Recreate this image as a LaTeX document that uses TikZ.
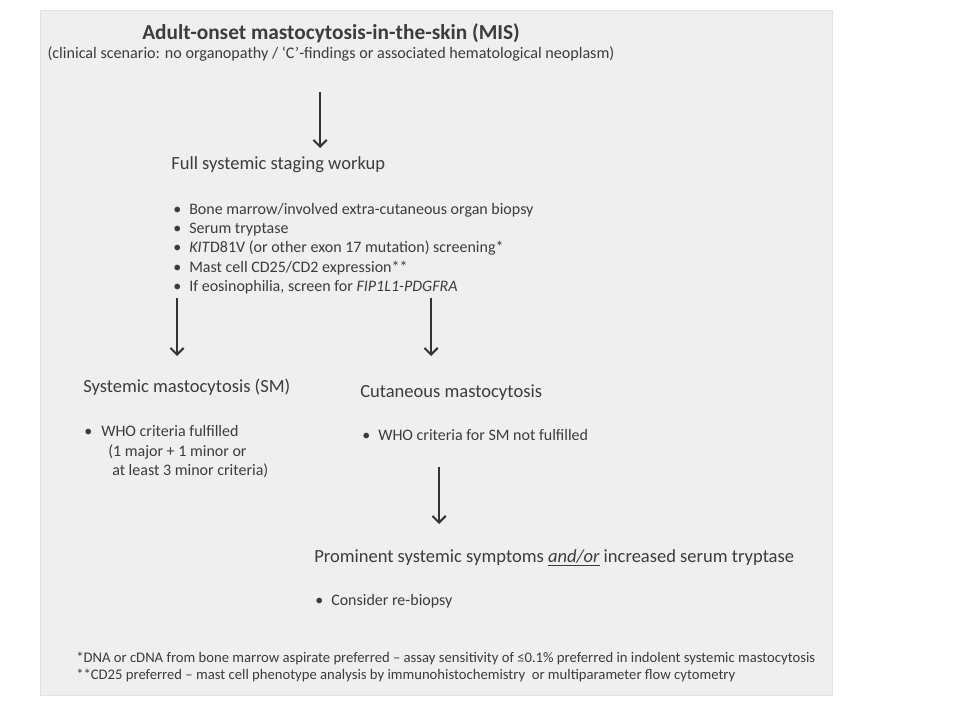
\documentclass[tikz,border=0pt]{standalone}
\usepackage{fontspec}
\setmainfont{Carlito}
\usetikzlibrary{arrows.meta}
\definecolor{bg}{HTML}{EFEFEF}
\definecolor{bgedge}{HTML}{E2E2E2}
\definecolor{ink}{HTML}{3C3C3C}
\definecolor{arr}{HTML}{333333}
\tikzset{
  fsz/.style={font=\fontsize{#1}{#1}\selectfont},
  txt/.style={anchor=mid west, inner sep=0pt, text=ink},
  ctxt/.style={anchor=mid, inner sep=0pt, text=ink},
  head/.style={txt, fsz=13.9},
  item/.style={txt, fsz=12},
  foot/.style={txt, fsz=11},
  flow/.style={draw=arr, line width=1.5pt, -{Straight Barb[length=5pt,width=10pt,line width=1.5pt]}},
}
\begin{document}
\begin{tikzpicture}[x=0.75pt,y=-0.75pt]
\useasboundingbox (0,0) rectangle (960,720);
\fill[white] (0,0) rectangle (960,720);
\draw[bgedge, fill=bg, line width=0.5pt] (40,10) rectangle (832,695);

% title
\node[ctxt, font=\fontsize{16}{16}\selectfont\bfseries] (title) at (331,36) {Adult-onset mastocytosis-in-the-skin (MIS)};
\node[ctxt, fsz=12.1] (sub) at (331,55.5) {(clinical scenario: no organopathy / ‘C’-findings or associated hematological neoplasm)};

% arrow 1
\coordinate (a1s) at (320,92);
\coordinate (a1e) at (320,148);
\draw[flow] (a1s) -- (a1e);

% staging
\node[head] (stage) at (171,166.5) {Full systemic staging workup};
\foreach \y/\t [count=\i] in {
  211/{Bone marrow/involved extra-cutaneous organ biopsy},
  230.3/{Serum tryptase},
  249.6/{\textit{KIT}D81V (or other exon 17 mutation) screening*},
  268.9/{Mast cell CD25/CD2 expression**},
  288.2/{If eosinophilia, screen for \textit{FIP1L1-PDGFRA}}}{
  \node[item] (sb\i) at (173,\y) {•};
  \node[item] (s\i) at (189,\y) {\t};
}

% arrows 2 and 3
\coordinate (a2s) at (177,298);
\coordinate (a2e) at (177,356);
\draw[flow] (a2s) -- (a2e);
\coordinate (a3s) at (431,298);
\coordinate (a3e) at (431,356);
\draw[flow] (a3s) -- (a3e);

% SM
\node[head] (sm) at (83,389.5) {Systemic mastocytosis (SM)};
\node[item] (smb) at (84,433) {•};
\node[item] (sm1) at (101,433) {WHO criteria fulfilled};
\node[item] (sm2) at (108,453) {(1 major + 1 minor or};
\node[item] (sm3) at (112,472.5) {at least 3 minor criteria)};

% CM
\node[head] (cm) at (360,394) {Cutaneous mastocytosis};
\node[item] (cmb) at (362,437) {•};
\node[item] (cm1) at (378,437) {WHO criteria for SM not fulfilled};

% arrow 4
\coordinate (a4s) at (439,467);
\coordinate (a4e) at (439,524);
\draw[flow] (a4s) -- (a4e);

% prominent
\node[head] (pr) at (314,559) {Prominent systemic symptoms \underline{\textit{and/or}} increased serum tryptase};
\node[item] (prb) at (315,602.5) {•};
\node[item] (pr1) at (331,602.5) {Consider re-biopsy};

% footnotes
\node[foot] (f1) at (76,659.5) {*DNA or cDNA from bone marrow aspirate preferred – assay sensitivity of ≤0.1\% preferred in indolent systemic mastocytosis};
\node[foot] (f2) at (76,676.5) {**CD25 preferred – mast cell phenotype analysis by immunohistochemistry\ \ or multiparameter flow cytometry};
\end{tikzpicture}
\end{document}
